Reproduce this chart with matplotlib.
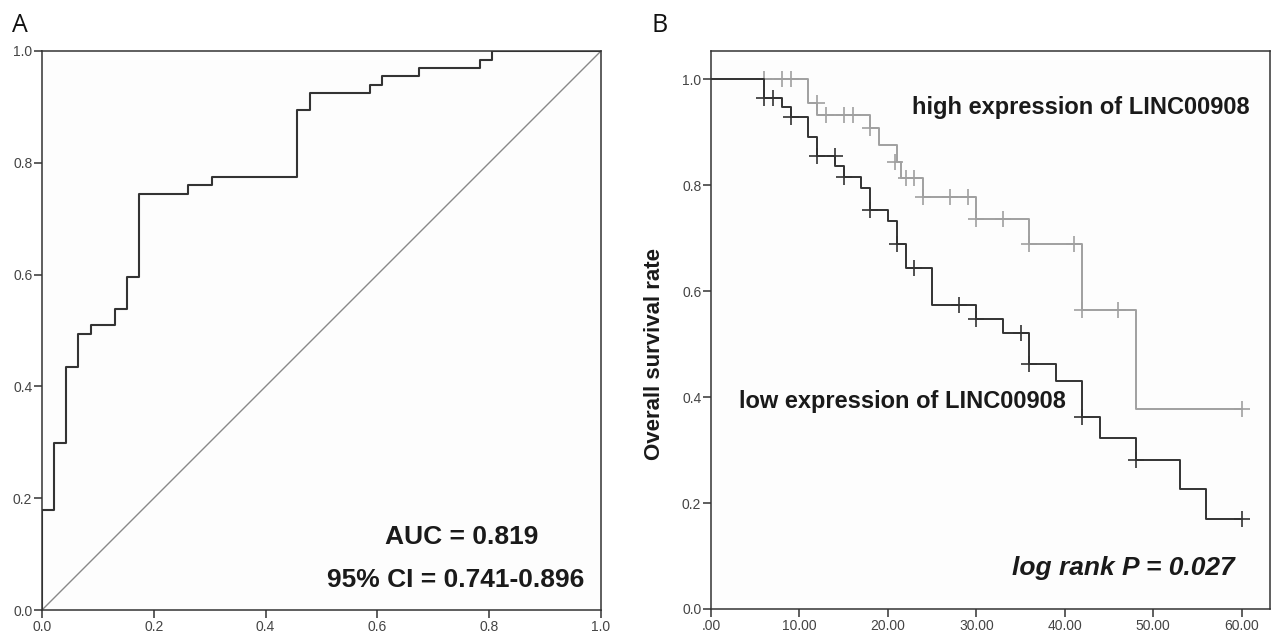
import numpy as np
import matplotlib.pyplot as plt

plt.rcParams['font.family'] = ['Liberation Sans', 'DejaVu Sans']

# ROC curve (panel A), staircase vertices
roc_fpr = [0, 0, 0.021, 0.0425, 0.065, 0.087, 0.130, 0.152, 0.174, 0.262, 0.305,
           0.457, 0.479, 0.587, 0.609, 0.674, 0.784, 0.805, 1.0]
roc_tpr = [0, 0.179, 0.299, 0.434, 0.494, 0.509, 0.539, 0.596, 0.745, 0.760, 0.775,
           0.894, 0.924, 0.940, 0.955, 0.970, 0.984, 1.0, 1.0]
auc_text = 'AUC = 0.819'
ci_text = '95% CI = 0.741-0.896'

# Kaplan-Meier (panel B)
high_t = [0, 11, 12, 18, 19, 21, 21.5, 24, 30, 36, 42, 48, 60]
high_s = [1.0, 0.954, 0.933, 0.907, 0.876, 0.844, 0.813, 0.778, 0.736, 0.689, 0.564, 0.377, 0.377]
high_cens_t = [6, 8, 9, 12, 13, 15, 16, 18, 20.8, 22, 23, 24, 27, 29, 30, 33, 36, 41, 42, 46, 60]
high_cens_s = [1.0, 1.0, 1.0, 0.954, 0.933, 0.933, 0.933, 0.907, 0.844, 0.813, 0.813, 0.778,
               0.778, 0.778, 0.736, 0.736, 0.689, 0.689, 0.564, 0.564, 0.377]

low_t = [0, 6, 8, 9, 11, 12, 14, 15, 17, 18, 20, 21, 22, 25, 30, 33, 36, 39, 42, 44, 48, 53, 56, 60]
low_s = [1.0, 0.965, 0.947, 0.929, 0.891, 0.855, 0.836, 0.816, 0.794, 0.753, 0.732, 0.688, 0.644,
         0.574, 0.547, 0.520, 0.462, 0.430, 0.362, 0.323, 0.282, 0.226, 0.169, 0.169]
low_cens_t = [6, 7, 9, 12, 14, 15, 18, 21, 23, 28, 30, 35, 36, 42, 48, 60]
low_cens_s = [0.965, 0.965, 0.929, 0.855, 0.855, 0.816, 0.753, 0.688, 0.644, 0.574, 0.547, 0.520,
              0.462, 0.362, 0.282, 0.169]

km_xticks = [0, 10, 20, 30, 40, 50, 60]
km_xlabels = ['.00', '10.00', '20.00', '30.00', '40.00', '50.00', '60.00']
yticks = [0.0, 0.2, 0.4, 0.6, 0.8, 1.0]

W, H = 1274, 635
fig = plt.figure(figsize=(W / 100, H / 100), dpi=100)

dark = '#333333'
grey = '#a0a0a0'
tick_col = '#444444'

def style_axes(ax):
    for sp in ax.spines.values():
        sp.set_color(dark)
        sp.set_linewidth(1.1)
    ax.tick_params(direction='out', length=6, width=1.1, color=dark,
                   labelsize=10, labelcolor=tick_col, pad=1,
                   top=False, right=False)
    ax.set_facecolor('#fdfdfd')

# panel A
axA = fig.add_axes([42 / W, (H - 610) / H, 559 / W, 559 / H])
axA.plot([0, 1], [0, 1], color='#888888', lw=1.0)
axA.plot(roc_fpr, roc_tpr, drawstyle='steps-post', color=dark, lw=1.5)
axA.set_xlim(0, 1)
axA.set_ylim(0, 1)
axA.set_xticks(yticks)
axA.set_yticks(yticks)
axA.set_xticklabels(['%.1f' % v for v in yticks])
axA.set_yticklabels(['%.1f' % v for v in yticks])
style_axes(axA)
axA.text(0.75, 0.131, auc_text, ha='center', va='center', fontsize=19, fontweight='bold', color='#1a1a1a')
axA.text(0.74, 0.054, ci_text, ha='center', va='center', fontsize=19, fontweight='bold', color='#1a1a1a')

# panel B
axB = fig.add_axes([711 / W, (H - 609) / H, 559 / W, 558 / H])
axB.step(high_t, high_s, where='post', color=grey, lw=1.4)
axB.plot(high_cens_t, high_cens_s, '+', color=grey, ms=11, mew=1.2)
axB.step(low_t, low_s, where='post', color=dark, lw=1.4)
axB.plot(low_cens_t, low_cens_s, '+', color=dark, ms=11, mew=1.2)
axB.set_xlim(0, 63.2)
axB.set_ylim(0, 1.053)
axB.set_xticks(km_xticks)
axB.set_xticklabels(km_xlabels)
axB.set_yticks(yticks)
axB.set_yticklabels(['%.1f' % v for v in yticks])
style_axes(axB)
axB.text(41.8, 0.947, 'high expression of LINC00908', ha='center', va='center',
         fontsize=17, fontweight='bold', color='#1a1a1a')
axB.text(21.7, 0.391, 'low expression of LINC00908', ha='center', va='center',
         fontsize=17, fontweight='bold', color='#1a1a1a')
axB.text(46.6, 0.077, 'log rank P = 0.027', ha='center', va='center',
         fontsize=19, fontweight='bold', fontstyle='italic', color='#1a1a1a')

fig.text(655 / W, 1 - 354 / H, 'Overall survival rate', rotation=90, ha='center', va='center',
         fontsize=16, fontweight='bold', color='#1a1a1a')

fig.text(12 / W, 1 - 32 / H, 'A', fontsize=18, family=['Open Sans', 'DejaVu Sans'],
         ha='left', va='baseline', color='#111111')
fig.text(652 / W, 1 - 32 / H, 'B', fontsize=18, family=['Open Sans', 'DejaVu Sans'],
         ha='left', va='baseline', color='#111111')

fig.savefig('out.png', dpi=100, facecolor='white')
